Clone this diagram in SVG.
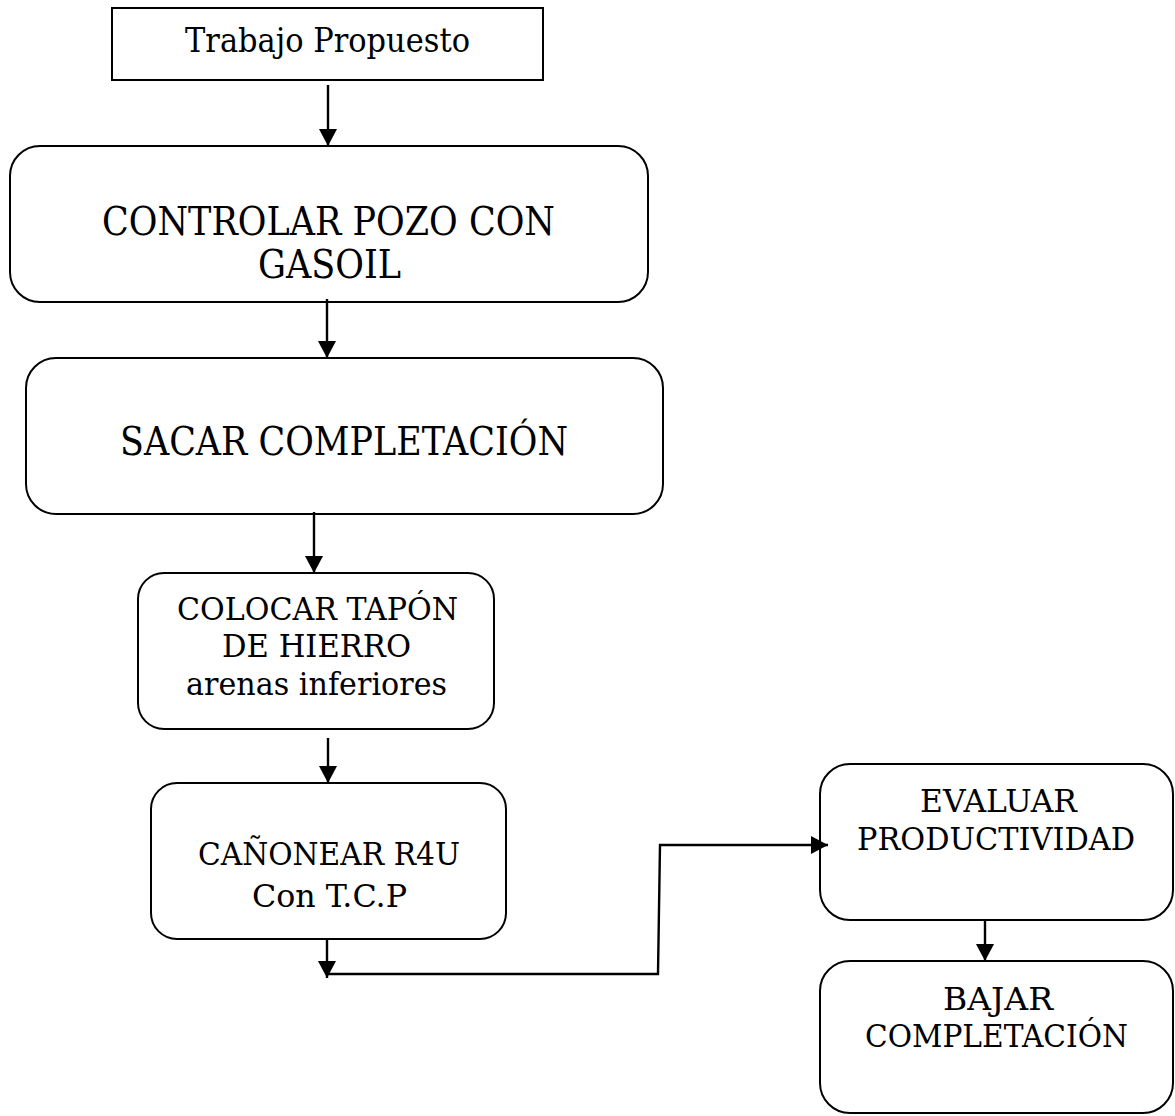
<svg xmlns="http://www.w3.org/2000/svg" width="1175" height="1116" viewBox="0 0 1175 1116">
  <style>
    .box { fill: #ffffff; stroke: #000000; stroke-width: 2; }
    .lbl { font-family: "DejaVu Serif", "Liberation Serif", serif; fill: #000000; text-anchor: middle; }
    .big { font-size: 39px; }
    .top { font-size: 33px; }
    .mid { font-size: 31px; }
    .wire { fill: none; stroke: #000000; stroke-width: 2.4; }
  </style>
  <defs>
    <marker id="head" viewBox="0 0 17 18" refX="17" refY="9" markerWidth="17" markerHeight="18" markerUnits="userSpaceOnUse" orient="auto">
      <path d="M0,0 L17,9 L0,18 Z" fill="#000000"/>
    </marker>
  </defs>
  <rect width="1175" height="1116" fill="#ffffff"/>

  <g id="trabajo-propuesto">
    <rect class="box" x="112" y="8" width="431" height="72"/>
    <text class="lbl top" x="327.5" y="52" textLength="285" lengthAdjust="spacingAndGlyphs">Trabajo Propuesto</text>
  </g>

  <g id="controlar-pozo">
    <rect class="box" x="10" y="146" width="638" height="156" rx="30" ry="30"/>
    <text class="lbl big" x="328.5" y="235" textLength="453" lengthAdjust="spacingAndGlyphs">CONTROLAR POZO CON</text>
    <text class="lbl big" x="329.5" y="278" textLength="143" lengthAdjust="spacingAndGlyphs">GASOIL</text>
  </g>

  <g id="sacar-completacion">
    <rect class="box" x="26" y="358" width="637" height="156" rx="30" ry="30"/>
    <text class="lbl big" x="344" y="455" textLength="448" lengthAdjust="spacingAndGlyphs">SACAR COMPLETACIÓN</text>
  </g>

  <g id="colocar-tapon">
    <rect class="box" x="138" y="573" width="356" height="156" rx="26" ry="26"/>
    <text class="lbl mid" x="317.5" y="620" textLength="281" lengthAdjust="spacingAndGlyphs">COLOCAR TAPÓN</text>
    <text class="lbl mid" x="316.5" y="657" textLength="189" lengthAdjust="spacingAndGlyphs">DE HIERRO</text>
    <text class="lbl mid" x="316.5" y="695" textLength="261" lengthAdjust="spacingAndGlyphs">arenas inferiores</text>
  </g>

  <g id="canonear">
    <rect class="box" x="151" y="783" width="355" height="156" rx="26" ry="26"/>
    <text class="lbl mid" x="329" y="865" textLength="262" lengthAdjust="spacingAndGlyphs">CAÑONEAR R4U</text>
    <text class="lbl mid" x="329.5" y="907" textLength="155" lengthAdjust="spacingAndGlyphs">Con T.C.P</text>
  </g>

  <g id="evaluar-productividad">
    <rect class="box" x="820" y="764" width="353" height="156" rx="30" ry="30"/>
    <text class="lbl mid" x="998.5" y="812" textLength="157" lengthAdjust="spacingAndGlyphs">EVALUAR</text>
    <text class="lbl mid" x="996" y="850" textLength="278" lengthAdjust="spacingAndGlyphs">PRODUCTIVIDAD</text>
  </g>

  <g id="bajar-completacion">
    <rect class="box" x="820" y="961" width="353" height="152" rx="30" ry="30"/>
    <text class="lbl mid" x="998" y="1010" textLength="110" lengthAdjust="spacingAndGlyphs">BAJAR</text>
    <text class="lbl mid" x="996.5" y="1047" textLength="263" lengthAdjust="spacingAndGlyphs">COMPLETACIÓN</text>
  </g>

  <g id="connectors">
    <line class="wire" x1="328" y1="85" x2="328" y2="146" marker-end="url(#head)"/>
    <line class="wire" x1="327" y1="299" x2="327" y2="358" marker-end="url(#head)"/>
    <line class="wire" x1="314" y1="512" x2="314" y2="573" marker-end="url(#head)"/>
    <line class="wire" x1="328" y1="738" x2="328" y2="783" marker-end="url(#head)"/>
    <line class="wire" x1="327" y1="939" x2="327" y2="978" marker-end="url(#head)"/>
    <polyline class="wire" points="327,974 658,974 660,845 828,845" marker-end="url(#head)"/>
    <line class="wire" x1="985" y1="920" x2="985" y2="961" marker-end="url(#head)"/>
  </g>
</svg>
